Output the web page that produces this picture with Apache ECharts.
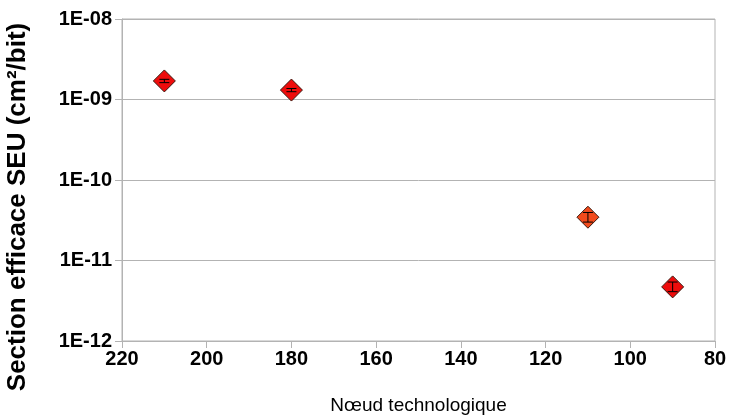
<!DOCTYPE html>
<html><head><meta charset="utf-8">
<script src="https://cdn.jsdelivr.net/npm/echarts@6/dist/echarts.min.js"></script>
<style>html,body{margin:0;padding:0;background:#fff}#c{width:730px;height:419px}</style>
</head><body><div id="c"></div>
<script>
const nodes = [210, 180, 110, 90];
const seu = [1.7e-9, 1.31e-9, 3.45e-11, 4.7e-12];
const errLow = [1.62e-9, 1.25e-9, 3.0e-11, 4.1e-12];
const errHigh = [1.78e-9, 1.37e-9, 3.95e-11, 5.4e-12];
const colors = ['#ee0c0c', '#ee0c0c', '#f24a1c', '#ee0c0c'];
const xTicks = [80, 220, 20];
const yRange = [1e-12, 1e-8];

const chart = echarts.init(document.getElementById('c'));
const font = 'Liberation Sans, Arial, sans-serif';
chart.setOption({
  animation: false,
  backgroundColor: '#fff',
  grid: {left: 122, right: 15, top: 19, bottom: 78, show: true, borderColor: '#b3b3b3', borderWidth: 1,
    containLabel: false, outerBoundsMode: 'none'},
  xAxis: {
    type: 'value', min: xTicks[0], max: xTicks[1], interval: xTicks[2], inverse: true,
    name: 'Nœud technologique', nameLocation: 'middle', nameGap: 55,
    nameTextStyle: {fontFamily: font, fontSize: 19, color: '#000'},
    axisLine: {show: true, lineStyle: {color: '#b3b3b3'}},
    axisTick: {show: true, inside: false, length: 7, lineStyle: {color: '#b3b3b3'}},
    axisLabel: {fontFamily: font, fontSize: 20, fontWeight: 'bold', color: '#000', margin: 8},
    splitLine: {show: false}
  },
  yAxis: {
    type: 'log', logBase: 10, min: yRange[0], max: yRange[1],
    name: 'Section efficace SEU (cm²/bit)', nameLocation: 'middle', nameGap: 91,
    nameTextStyle: {fontFamily: font, fontSize: 26, fontWeight: 'bold', color: '#000', padding: [0, 54, 0, 0]},
    axisLine: {show: true, lineStyle: {color: '#b3b3b3'}},
    axisTick: {show: true, inside: false, length: 7, lineStyle: {color: '#b3b3b3'}},
    axisLabel: {fontFamily: font, fontSize: 20, fontWeight: 'bold', color: '#000', margin: 10,
      formatter: v => { const e = Math.round(Math.log10(v)); return '1E' + (e < 0 ? '-' : '+') + String(Math.abs(e)).padStart(2, '0'); }},
    splitLine: {show: true, lineStyle: {color: '#b3b3b3', width: 1}}
  },
  series: [
    {
      type: 'scatter', symbol: 'diamond', symbolSize: 22, z: 2,
      data: nodes.map((n, i) => ({value: [n, seu[i]], itemStyle: {color: colors[i]}})),
      itemStyle: {borderColor: '#3a1a10', borderWidth: 1, opacity: 1}
    },
    {
      type: 'custom', z: 3,
      data: nodes.map((n, i) => [n, errLow[i], errHigh[i]]),
      renderItem: (params, api) => {
        const lo = api.coord([api.value(0), api.value(1)]);
        const hi = api.coord([api.value(0), api.value(2)]);
        const w = 5;
        const st = {stroke: '#000', lineWidth: 1};
        return {type: 'group', children: [
          {type: 'line', shape: {x1: lo[0], y1: lo[1], x2: hi[0], y2: hi[1]}, style: st},
          {type: 'line', shape: {x1: lo[0] - w, y1: lo[1], x2: lo[0] + w, y2: lo[1]}, style: st},
          {type: 'line', shape: {x1: hi[0] - w, y1: hi[1], x2: hi[0] + w, y2: hi[1]}, style: st}
        ]};
      }
    }
  ]
});
</script>
</body></html>
